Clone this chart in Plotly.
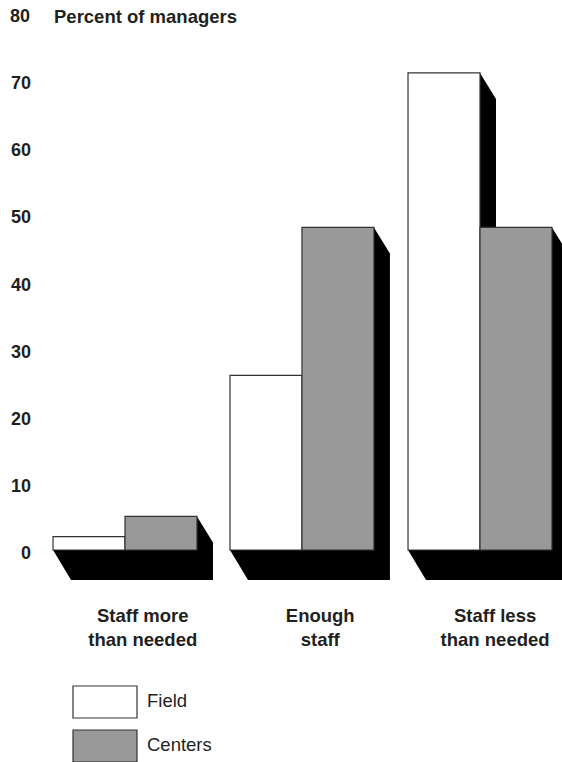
import plotly.graph_objects as go

categories = ["Staff more<br>than needed", "Enough<br>staff", "Staff less<br>than needed"]
field = [2, 26, 71]
centers = [5, 48, 48]
y_ticks = [0, 10, 20, 30, 40, 50, 60, 70]
group_positions = [0, 0.997, 2]
label_positions = [0.10, 1.10, 2.085]

W, H = 562, 762
ML, MB = 36, 167
plot_w, plot_h = W - ML, H - MB
x_range = [-0.5014, 2.462]
y_range = [-6.70, 81.85]
px_x = (x_range[1] - x_range[0]) / plot_w
px_y = (y_range[1] - y_range[0]) / plot_h
bargap = 0.189
bw = (1 - bargap) / 2
INK = "#333333"
TXT = "#231f20"
GREY = "#999999"
FONT = "Liberation Sans"


def poly(pts):
    return dict(type="path", xref="x", yref="y", layer="below",
                path="M " + " L ".join(f"{a:.4f},{b:.4f}" for a, b in pts) + " Z",
                fillcolor="black", line=dict(width=0))


shapes = []
dx, dy = 16 * px_x, 26 * px_y
fx, fy = 18 * px_x, 30 * px_y
for i, g in enumerate(group_positions):
    left, mid, right = g - bw, g, g + bw
    shapes.append(poly([(left, 0), (left + fx, -fy), (right + dx, -fy), (right + dx, 0)]))
    for xr, v in ((mid, field[i]), (right, centers[i])):
        shapes.append(poly([(xr, v), (xr + dx, v - dy), (xr + dx, 0), (xr, 0)]))


def pxp(x):
    return (x - ML) / plot_w


def pyp(y):
    return 1 - y / plot_h


annotations = []
for label, fill, top, bottom in (("Field", "white", 686, 718), ("Centers", GREY, 730, 762)):
    shapes.append(dict(type="rect", xref="paper", yref="paper",
                       x0=pxp(73), x1=pxp(137), y0=pyp(bottom), y1=pyp(top),
                       fillcolor=fill, line=dict(color=INK, width=1.2)))
    annotations.append(dict(xref="paper", yref="paper", x=pxp(145), y=pyp((top + bottom) / 2 - 2),
                            text=label, showarrow=False, xanchor="left", yanchor="middle",
                            font=dict(family=FONT, size=18.5, color=TXT)))

annotations.append(dict(xref="paper", yref="paper", x=pxp(8), y=pyp(16), text="<b>80</b>",
                        showarrow=False, xanchor="left", yanchor="middle",
                        font=dict(family=FONT, size=18, color=TXT)))
annotations.append(dict(xref="paper", yref="paper", x=pxp(52), y=pyp(16),
                        text="<b>Percent of managers</b>", showarrow=False,
                        xanchor="left", yanchor="middle",
                        font=dict(family=FONT, size=18.5, color=TXT)))

fig = go.Figure()
fig.add_bar(name="Field", x=group_positions, y=field, width=bw, offset=-bw,
            marker=dict(color="white", line=dict(color=INK, width=1.2)))
fig.add_bar(name="Centers", x=group_positions, y=centers, width=bw, offset=0,
            marker=dict(color=GREY, line=dict(color=INK, width=1.2)))
fig.update_layout(
    width=W, height=H, barmode="overlay", showlegend=False,
    margin=dict(l=ML, r=0, t=0, b=MB, pad=0), paper_bgcolor="white", plot_bgcolor="white",
    shapes=shapes, annotations=annotations,
    font=dict(family=FONT, size=18, color=TXT),
)
fig.update_xaxes(type="linear", range=x_range, showgrid=False, zeroline=False, showline=False, ticks="",
                 tickmode="array", tickvals=label_positions, ticktext=[f"<b>{c}</b>" for c in categories],
                 ticklabelstandoff=7, tickfont=dict(family=FONT, size=18.5, color=TXT))
fig.update_yaxes(range=y_range, showgrid=False, zeroline=False, showline=False, ticks="",
                 tickmode="array", tickvals=y_ticks, ticktext=[f"<b>{v}</b>" for v in y_ticks],
                 ticklabelshift=3, ticklabelstandoff=4, tickfont=dict(family=FONT, size=18, color=TXT))
fig.write_html("out.html", config={"displayModeBar": False},
               post_script="document.body.style.margin='0';")
